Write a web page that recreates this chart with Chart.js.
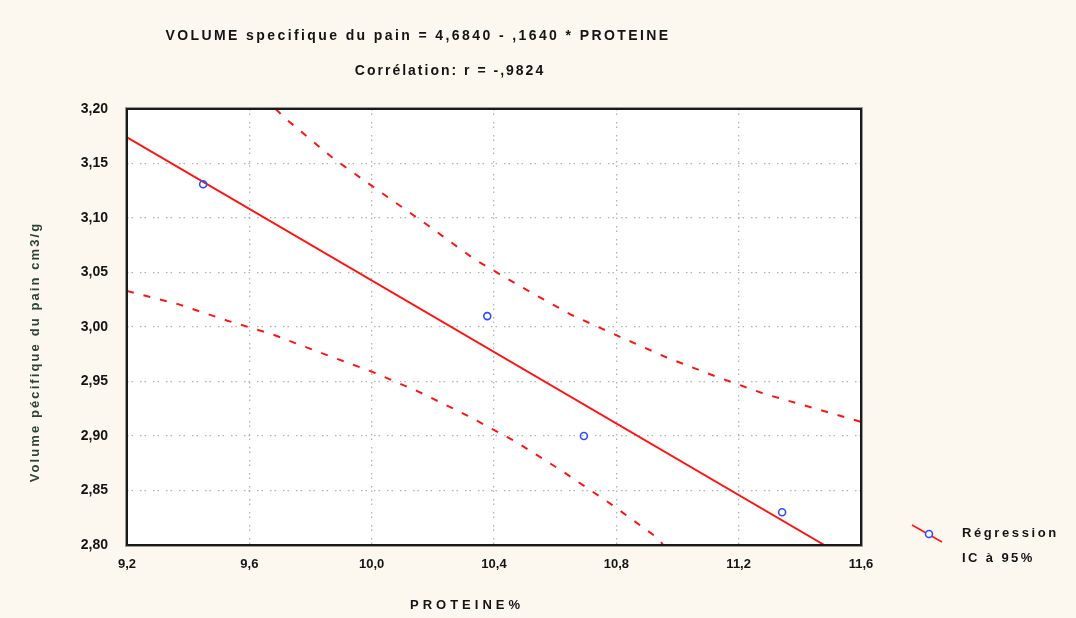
<!DOCTYPE html>
<html>
<head>
<meta charset="utf-8">
<script src="https://cdn.jsdelivr.net/npm/chart.js@4.4.1/dist/chart.umd.min.js"></script>
<style>
html,body{margin:0;padding:0;background:#fcf8f0;}
#wrap{width:1076px;height:618px;position:relative;}
</style>
</head>
<body>
<div id="wrap"><canvas id="c" width="1076" height="618"></canvas></div>
<script>
// ---- data ----
const titleText = "VOLUME specifique du pain = 4,6840 - ,1640 * PROTEINE";
const subtitleText = "Corrélation: r = -,9824";
const xTitle = "PROTEINE%";
const yTitle = "Volume pécifique du pain cm3/g";
const legendLabels = ["Régression", "IC à 95%"];

const obsX = [9.449, 10.378, 10.694, 11.342];
const obsY = [3.131, 3.010, 2.900, 2.830];

const regX = [9.2, 11.48];
const regY = [3.174, 2.80];

const upperX = [9.686, 9.715, 9.873, 10.033, 10.18, 10.337, 10.494, 10.654, 10.812, 10.965, 11.122, 11.28, 11.44, 11.6];
const upperY = [3.200, 3.192, 3.155, 3.123, 3.094, 3.062, 3.036, 3.011, 2.991, 2.972, 2.955, 2.939, 2.926, 2.913];

const lowerX = [9.2, 9.367, 9.526, 9.678, 9.837, 10.001, 10.151, 10.311, 10.47, 10.622, 10.78, 10.937, 10.953];
const lowerY = [3.033, 3.021, 3.006, 2.993, 2.976, 2.959, 2.941, 2.919, 2.895, 2.868, 2.838, 2.806, 2.800];

const xTicks = [9.2, 9.6, 10.0, 10.4, 10.8, 11.2, 11.6];
const yTicks = [2.80, 2.85, 2.90, 2.95, 3.00, 3.05, 3.10, 3.15, 3.20];

// ---- helpers ----
const pts = (xs, ys) => xs.map((x, i) => ({x: x, y: ys[i]}));
const RED = '#ff1414';
const BLUE = '#2f4cff';
const INK = '#141414';
const FONT = '"Liberation Sans", Arial, sans-serif';

const PLOT = {left: 127, right: 861, top: 109, bottom: 545};

function drawSpaced(ctx, text, x, y, spacing, align) {
  ctx.save();
  ctx.letterSpacing = spacing + 'px';
  let w = ctx.measureText(text).width;
  let sx = x;
  if (align === 'center') sx = x - w / 2;
  else if (align === 'right') sx = x - w;
  ctx.textAlign = 'left';
  ctx.fillText(text, sx, y);
  ctx.restore();
}

const decor = {
  id: 'decor',
  beforeDraw(chart) {
    const ctx = chart.ctx;
    const a = chart.chartArea;
    ctx.save();
    ctx.fillStyle = '#fcf8f0';
    ctx.fillRect(0, 0, chart.width, chart.height);
    ctx.fillStyle = '#ffffff';
    ctx.fillRect(a.left, a.top, a.right - a.left, a.bottom - a.top);
    ctx.restore();
  },
  afterDraw(chart) {
    const ctx = chart.ctx;
    const a = chart.chartArea;
    ctx.save();
    // frame
    ctx.strokeStyle = '#9a9a9a';
    ctx.lineWidth = 1;
    ctx.strokeRect(a.left - 1.5, a.top - 1.5, a.right - a.left + 3, a.bottom - a.top + 3);
    ctx.strokeStyle = '#1a1a1a';
    ctx.lineWidth = 2;
    ctx.strokeRect(a.left, a.top, a.right - a.left, a.bottom - a.top);

    // titles
    ctx.fillStyle = INK;
    ctx.textBaseline = 'middle';
    ctx.font = 'bold 14px ' + FONT;
    drawSpaced(ctx, titleText, 418, 36, 2.4, 'center');
    drawSpaced(ctx, subtitleText, 450, 71, 2.0, 'center');

    // x axis title
    ctx.font = 'bold 13px ' + FONT;
    drawSpaced(ctx, xTitle, 467, 605, 4.0, 'center');

    // y axis title
    ctx.save();
    ctx.translate(35, 352);
    ctx.rotate(-Math.PI / 2);
    ctx.fillStyle = '#2c4234';
    ctx.font = 'bold 13px ' + FONT;
    drawSpaced(ctx, yTitle, 0, 0, 2.1, 'center');
    ctx.restore();

    // legend
    ctx.strokeStyle = RED;
    ctx.lineWidth = 1.5;
    ctx.setLineDash([]);
    ctx.beginPath();
    ctx.moveTo(912, 525);
    ctx.lineTo(942, 542);
    ctx.stroke();
    ctx.fillStyle = '#ffffff';
    ctx.beginPath();
    ctx.arc(929, 534, 3.5, 0, Math.PI * 2);
    ctx.fill();
    ctx.strokeStyle = BLUE;
    ctx.lineWidth = 1.6;
    ctx.stroke();
    ctx.fillStyle = INK;
    ctx.font = 'bold 13px ' + FONT;
    drawSpaced(ctx, legendLabels[0], 962, 533, 2.6, 'left');
    drawSpaced(ctx, legendLabels[1], 962, 558, 2.4, 'left');
    ctx.restore();
  }
};

const comma = v => v.toFixed(2).replace('.', ',');

new Chart(document.getElementById('c'), {
  type: 'scatter',
  data: {
    datasets: [
      {
        label: 'obs',
        data: pts(obsX, obsY),
        pointStyle: 'circle',
        pointRadius: 3.5,
        pointBorderWidth: 1.6,
        borderColor: BLUE,
        backgroundColor: 'rgba(255,255,255,0)',
        showLine: false,
        order: 0
      },
      {
        label: 'reg',
        data: pts(regX, regY),
        showLine: true,
        borderColor: RED,
        borderWidth: 2,
        pointRadius: 0,
        order: 1
      },
      {
        label: 'upper',
        data: pts(upperX, upperY),
        showLine: true,
        borderColor: RED,
        borderWidth: 2,
        borderDash: [7, 10],
        pointRadius: 0,
        order: 2
      },
      {
        label: 'lower',
        data: pts(lowerX, lowerY),
        showLine: true,
        borderColor: RED,
        borderWidth: 2,
        borderDash: [7, 10],
        pointRadius: 0,
        order: 3
      }
    ]
  },
  options: {
    responsive: false,
    animation: false,
    devicePixelRatio: 1,
    layout: {padding: {left: 0, top: PLOT.top, right: 1076 - PLOT.right, bottom: 0}},
    plugins: {legend: {display: false}, title: {display: false}, tooltip: {enabled: false}},
    scales: {
      x: {
        type: 'linear',
        min: 9.2, max: 11.6,
        afterBuildTicks: s => { s.ticks = xTicks.map(v => ({value: v})); },
        afterFit: s => { s.height = 618 - PLOT.bottom; },
        ticks: {
          color: INK,
          font: {family: FONT, size: 13, weight: 'bold'},
          padding: 12,
          maxRotation: 0,
          callback: v => v.toFixed(1).replace('.', ',')
        },
        grid: {
          color: '#a9b7b0',
          lineWidth: 1.3,
          drawTicks: false
        },
        border: {display: false, dash: [1.5, 3, 1.5, 7]}
      },
      y: {
        type: 'linear',
        min: 2.80, max: 3.20,
        afterBuildTicks: s => { s.ticks = yTicks.map(v => ({value: v})); },
        afterFit: s => { s.width = PLOT.left; },
        ticks: {
          color: INK,
          font: {family: FONT, size: 14, weight: 'bold'},
          padding: 19,
          callback: v => comma(v)
        },
        grid: {
          color: '#a9b7b0',
          lineWidth: 1.3,
          drawTicks: false
        },
        border: {display: false, dash: [1.5, 3, 1.5, 7]}
      }
    }
  },
  plugins: [decor]
});
</script>
</body>
</html>
